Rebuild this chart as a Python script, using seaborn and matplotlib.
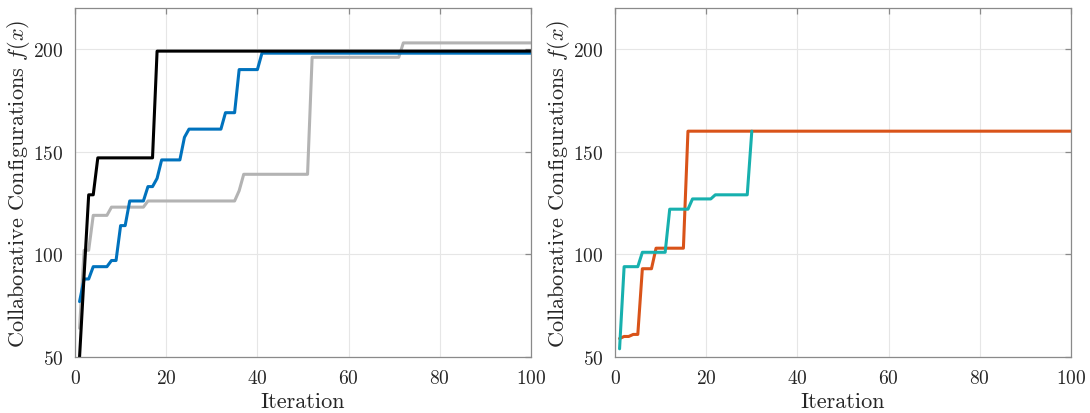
import matplotlib
matplotlib.use("Agg")
import matplotlib.pyplot as plt
import seaborn as sns

# ---- data (iteration, best value) ----
black_it = [1, 2, 3, 4, 5, 17, 18, 100]
black_val = [50, 90, 129, 129, 147, 147, 199, 199]

blue_it = [1, 2, 3, 4, 7, 8, 9, 10, 11, 12, 15, 16, 17, 18, 19, 23, 24, 25, 32, 33, 35, 36, 40, 41, 100]
blue_val = [77, 88, 88, 94, 94, 97, 97, 114, 114, 126, 126, 133, 133, 137, 146, 146, 157, 161, 161, 169, 169, 190, 190, 198, 198]

gray_it = [1, 2, 3, 4, 7, 8, 15, 16, 35, 36, 37, 51, 52, 71, 72, 100]
gray_val = [64, 102, 102, 119, 119, 123, 123, 126, 126, 131, 139, 139, 196, 196, 203, 203]

teal_it = [1, 2, 5, 6, 11, 12, 16, 17, 21, 22, 29, 30]
teal_val = [54, 94, 94, 101, 101, 122, 122, 127, 127, 129, 129, 160]

orange_it = [1, 2, 3, 4, 5, 6, 8, 9, 15, 16, 100]
orange_val = [59, 60, 60, 61, 61, 93, 93, 103, 103, 160, 160]

x_ticks = [0, 20, 40, 60, 80, 100]
y_ticks = [50, 100, 150, 200]
x_label = "Iteration"
y_label = "Collaborative Configurations $f(x)$"

# ---- style ----
sns.set_style("white")
plt.rcParams["font.family"] = ["cmr10"]
plt.rcParams["mathtext.fontset"] = "cm"
plt.rcParams["axes.formatter.use_mathtext"] = True

fig = plt.figure(figsize=(10.9, 4.14), dpi=100)
W, H = 1090, 414
axL = fig.add_axes([75 / W, (H - 358) / H, 456 / W, 349 / H])
axR = fig.add_axes([615 / W, (H - 358) / H, 456 / W, 349 / H])

lw = 2.2
sns.lineplot(x=gray_it, y=gray_val, ax=axL, color="#b3b3b3", linewidth=lw)
sns.lineplot(x=blue_it, y=blue_val, ax=axL, color="#0072bd", linewidth=lw)
sns.lineplot(x=black_it, y=black_val, ax=axL, color="#000000", linewidth=lw)

sns.lineplot(x=orange_it, y=orange_val, ax=axR, color="#d95319", linewidth=lw)
sns.lineplot(x=teal_it, y=teal_val, ax=axR, color="#17b0ae", linewidth=lw)

for ax in (axL, axR):
    ax.set_xlim(0, 100)
    ax.set_ylim(50, 220)
    ax.set_xticks(x_ticks)
    ax.set_yticks(y_ticks)
    ax.grid(True, color="#e6e6e6", linewidth=0.8)
    ax.set_axisbelow(True)
    for s in ax.spines.values():
        s.set_visible(True)
        s.set_color("#8a8a8a")
        s.set_linewidth(0.9)
    ax.tick_params(direction="in", length=4, width=0.9, color="#8a8a8a",
                   top=True, right=True, labelsize=14, labelcolor="#262626")
    ax.tick_params(axis="x", pad=9)
    ax.tick_params(axis="y", pad=8)
    ax.set_xlabel(x_label, fontsize=16, color="#262626", labelpad=3)
    ax.set_ylabel(y_label, fontsize=16, color="#262626", labelpad=1)

fig.savefig("out.png", dpi=100)
